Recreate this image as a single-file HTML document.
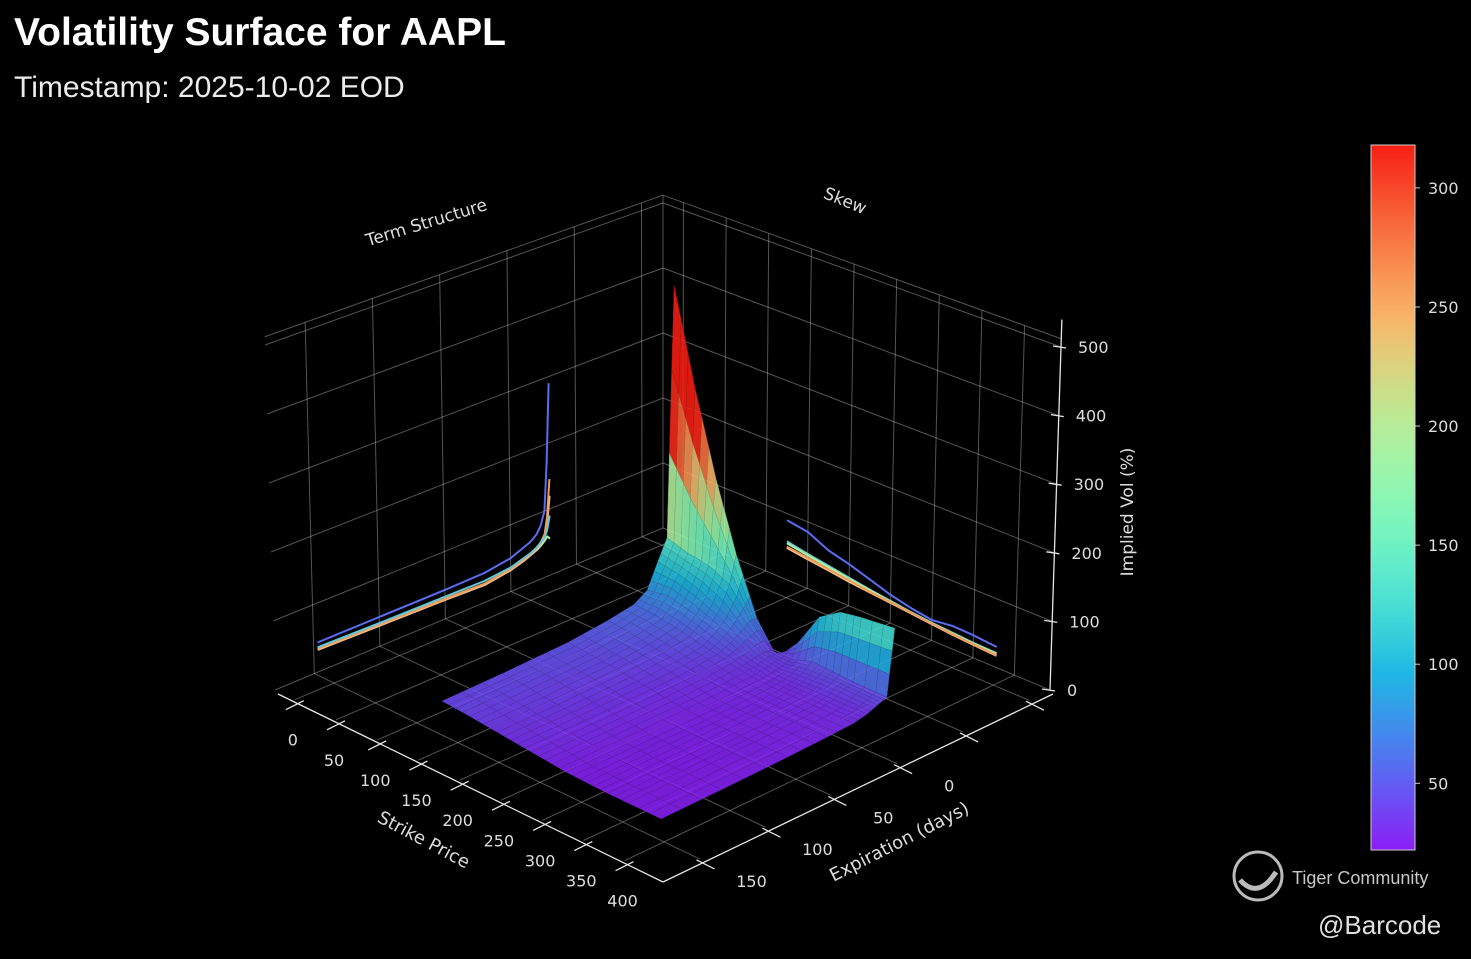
<!DOCTYPE html>
<html><head><meta charset="utf-8"><title>Volatility Surface for AAPL</title>
<style>
html,body{margin:0;padding:0;background:#000;}
svg{display:block;font-family:"DejaVu Sans","Liberation Sans",sans-serif;}
</style></head>
<body>
<svg id="chart" width="1471" height="959" viewBox="0 0 1471 959">
<rect x="0" y="0" width="1471" height="959" fill="#000"/>
<text x="14" y="45" font-size="39" font-weight="bold" fill="#fff" font-family="Liberation Sans, sans-serif">Volatility Surface for AAPL</text>
<text x="14" y="97" font-size="30" fill="#ececec" font-family="Liberation Sans, sans-serif">Timestamp: 2025-10-02 EOD</text>
<g id="grid"></g>
<g id="walllines"></g>
<g id="surface" opacity="0.88"></g>
<g id="axes"></g>
<text x="0" y="0" font-size="17" fill="#ddd" text-anchor="middle" transform="translate(428,228) rotate(-17)">Term Structure</text>
<text x="0" y="0" font-size="17" fill="#ddd" text-anchor="middle" transform="translate(843,206) rotate(22)">Skew</text>
<text x="0" y="0" font-size="18" fill="#ddd" text-anchor="middle" transform="translate(421,845) rotate(28)">Strike Price</text>
<text x="0" y="0" font-size="18" fill="#ddd" text-anchor="middle" transform="translate(902,847) rotate(-27)">Expiration (days)</text>
<text x="0" y="0" font-size="17" fill="#ddd" text-anchor="middle" transform="translate(1133,512) rotate(-90)">Implied Vol (%)</text>
<defs>
<linearGradient id="cmap" x1="0" y1="1" x2="0" y2="0"></linearGradient>
</defs>
<g>
<rect x="1371" y="145" width="44" height="705" fill="url(#cmap)" stroke="#ccc" stroke-width="1"/>
<g id="cbticks"></g>
</g>
<g>
<circle cx="1258" cy="876" r="24" fill="none" stroke="#bbb" stroke-width="3"/>
<path d="M1240 880 Q1258 900 1276 872" fill="none" stroke="#bbb" stroke-width="5"/>
<text x="1292" y="884" font-size="18" fill="#c8c8c8" font-family="Liberation Sans, sans-serif">Tiger Community</text>
<text x="1318" y="934" font-size="26" fill="#e0e0e0" font-family="Liberation Sans, sans-serif">@Barcode</text>
</g>
</svg>
<script>
// ---- data ----
const strikes = [125,150,175,200,225,250,275,300,325,350,390];
const expirations = [-30,-25,-18,-10,0,20,50,100,146];
const ivSurface = [
 [510,370,250,150,70,25,60,110,130,135,140],
 [140,130,125,110,70,40,40,50,48,46,45],
 [110,105,95,80,60,42,36,40,42,42,40],
 [75,80,72,62,50,38,33,33,34,34,34],
 [62,60,55,48,42,35,31,30,30,30,30],
 [55,52,47,42,37,32,29,28,28,28,28],
 [48,45,42,38,34,30,27,26,26,26,26],
 [44,42,38,35,32,29,26,25,24,24,24],
 [42,40,37,34,31,28,25,24,23,23,23]
];
const termExps = [-30,-28,-26,-23,-20,-15,-10,0,20,50,100,147];
const termBlue = [290,170,100,80,70,62,58,50,44,43,43,43];
const termCyan = [90,70,60,55,50,45,42,36,32,33,34,36];
const termOrange = [145,90,65,55,50,44,40,34,28,30,32,34];
const termPeach = [120,80,60,52,47,42,38,32,26,28,30,32];
const termGreen = [55,60,55,50,46,42,38,32,27,29,31,33];
const skewStrikes = [125,150,175,200,225,250,275,300,325,350,378];
const skewBlue = [90,85,70,62,52,42,35,30,34,33,30];
const skewCyan = [58,52,47,42,37,33,29,26,24,22,21];
const skewGreen = [55,50,45,40,36,32,28,25,23,21,20];
const skewOrange = [50,46,42,38,34,31,28,25,22,20,18];
const skewPeach = [48,44,40,36,33,30,27,24,21,19,17];
const strikeTicks = [0,50,100,150,200,250,300,350,400];
const expTicks = [-100,-50,0,50,100,150];
const expTickLabels = ["","","0","50","100","150"];
const zTicks = [0,100,200,300,400,500];
const cbTicks = [50,100,150,200,250,300];

// ---- axis functions ----
const SMIN=-24, SMAX=443, EMIN=-116, EMAX=180, ZMAX=512, ZAXMAX=540, VMIN=22, VMAX=318;
const Bc=[663,528], Rc=[1050,690], Lc=[275,690], Fc=[660,878];
function bil(s,e,b,r,l,f){return (1-s)*(1-e)*b + s*(1-e)*r + (1-s)*e*l + s*e*f;}
function P(S,E,Z){
  const s=(S-SMIN)/(SMAX-SMIN), e=(E-EMIN)/(EMAX-EMIN);
  const x=bil(s,e,Bc[0],Rc[0],Lc[0],Fc[0]), y=bil(s,e,Bc[1],Rc[1],Lc[1],Fc[1]);
  const k=bil(s,e,0.65,0.686,0.69,0.73), dx=bil(s,e,0,0.022,-0.02,0);
  return [x+dx*Z, y-k*Z];
}
function cmap(v){
  let x=(v-VMIN)/(VMAX-VMIN); x=Math.max(0,Math.min(1,x));
  const r=Math.min(1,Math.abs(2*x-0.5)), g=Math.sin(Math.PI*x), b=Math.cos(Math.PI*x/2);
  return [r*255,g*255,b*255];
}
function rgb(c,f){f=f||1;return 'rgb('+Math.round(c[0]*f)+','+Math.round(c[1]*f)+','+Math.round(c[2]*f)+')';}
function soften(c){return [c[0]*0.85+30, c[1]*0.85+30, c[2]*0.88+20];}
const NS='http://www.w3.org/2000/svg';
function mk(tag,attrs,parent){const el=document.createElementNS(NS,tag);for(const a in attrs)el.setAttribute(a,attrs[a]);parent.appendChild(el);return el;}
function line(p,q,st,w,parent,name){
  const el=mk('line',{x1:p[0],y1:p[1],x2:q[0],y2:q[1],stroke:st,'stroke-width':w},parent);
  
  
  return el;
}

// ---- grid ----
const grid=document.getElementById('grid');
const GC='rgba(200,200,200,0.42)';
strikeTicks.forEach(t=>{
  line(P(t,EMIN,0),P(t,EMAX,0),GC,1,grid,'floor-grid-strike');
  line(P(t,EMIN,0),P(t,EMIN,ZMAX),GC,1,grid,'right-wall-grid-strike');
});
expTicks.forEach(t=>{
  line(P(SMIN,t,0),P(SMAX,t,0),GC,1,grid,'floor-grid-exp');
  line(P(SMIN,t,0),P(SMIN,t,ZMAX),GC,1,grid,'left-wall-grid-exp');
});
zTicks.concat([ZMAX]).forEach(z=>{
  line(P(SMIN,EMIN,z),P(SMIN,EMAX,z),GC,1,grid,'left-wall-grid-z');
  line(P(SMIN,EMIN,z),P(SMAX,EMIN,z),GC,1,grid,'right-wall-grid-z');
});
line(P(SMIN,EMIN,0),P(SMIN,EMIN,ZMAX),GC,1,grid,'back-edge');

// ---- wall projections ----
const wl=document.getElementById('walllines');
function polyline(pts,color,name){
  const el=mk('polyline',{points:pts.map(p=>p[0].toFixed(1)+','+p[1].toFixed(1)).join(' '),fill:'none',stroke:color,'stroke-width':2,'stroke-linejoin':'round'},wl);
  
  
}
[[termGreen,'#b0f0a0'],[termPeach,'#f5c08a'],[termOrange,'#f09a5a'],[termCyan,'#60c8d8'],[termBlue,'#5a6cf0']].forEach(([arr,c])=>{
  polyline(termExps.map((E,i)=>P(SMIN,E,arr[i])),c,'term-structure-line');
});
[[skewBlue,'#5a6cf0'],[skewCyan,'#60d0d0'],[skewGreen,'#b0f0a0'],[skewPeach,'#f5c08a'],[skewOrange,'#f09a5a']].forEach(([arr,c])=>{
  polyline(skewStrikes.map((S,i)=>P(S,EMIN,arr[i])),c,'skew-line');
});

// ---- surface ----
const surf=document.getElementById('surface');
const SUB=3, faces=[];
for(let j=0;j<expirations.length-1;j++){
  for(let i=0;i<strikes.length-1;i++){
    const z00=ivSurface[j][i], z10=ivSurface[j][i+1], z01=ivSurface[j+1][i], z11=ivSurface[j+1][i+1];
    for(let b=0;b<SUB;b++)for(let a=0;a<SUB;a++){
      const corners=[[a,b],[a+1,b],[a+1,b+1],[a,b+1]].map(([u,v])=>{
        u/=SUB; v/=SUB;
        const S=strikes[i]+(strikes[i+1]-strikes[i])*u;
        const E=expirations[j]+(expirations[j+1]-expirations[j])*v;
        const Z=(1-u)*(1-v)*z00+u*(1-v)*z10+(1-u)*v*z01+u*v*z11;
        return {S,E,Z};
      });
      const zc=corners.reduce((m,c)=>m+c.Z,0)/4;
      const sc=corners.reduce((m,c)=>m+(c.S-SMIN)/(SMAX-SMIN)+(c.E-EMIN)/(EMAX-EMIN),0)/4;
      faces.push({corners,zc,depth:sc});
    }
  }
}
faces.sort((a,b)=>a.depth-b.depth);
faces.forEach(f=>{
  const pts=f.corners.map(c=>P(c.S,c.E,c.Z));
  const col=soften(cmap(f.zc));
  const el=mk('polygon',{points:pts.map(p=>p[0].toFixed(1)+','+p[1].toFixed(1)).join(' '),fill:rgb(col),stroke:rgb(col,0.8),'stroke-width':0.5},surf);
  
  
});

// ---- axes ----
const ax=document.getElementById('axes');
const AC='#e6e6e6';
function off(p,dx,dy){return [p[0]+dx,p[1]+dy];}
line(off(P(SMIN,EMAX,0),3,4),off(P(SMAX,EMAX,0),3,4),AC,1.3,ax,'x-axis-line');
line(off(P(SMAX,EMAX,0),3,4),off(P(SMAX,EMIN,0),3,4),AC,1.3,ax,'y-axis-line');
line(P(SMAX,EMIN,0),P(SMAX,EMIN,ZAXMAX),AC,1.3,ax,'z-axis-line');
function label(x,y,txt,name,anchor){
  const t=mk('text',{x:x,y:y,'font-size':16,fill:'#ddd','text-anchor':anchor||'middle'},ax);
  t.textContent=txt;
  
  
}
strikeTicks.forEach(t=>{
  const p=off(P(t,EMAX,0),3,4);
  line(off(p,6,-3),off(p,-12,6),AC,1.3,ax,'x-tick');
  label(p[0]-5,p[1]+42,String(t),'x-tick-label');
});
expTicks.forEach((t,i)=>{
  const p=off(P(SMAX,t,0),3,4);
  line(off(p,-6,-3),off(p,12,6),AC,1.3,ax,'y-tick');
  if(expTickLabels[i]) label(p[0]+49,p[1]+24,expTickLabels[i],'y-tick-label');
});
zTicks.forEach(z=>{
  const p=P(SMAX,EMIN,z);
  line(off(p,-8,-1),off(p,5,1),AC,1.3,ax,'z-tick');
  label(p[0]+17,p[1]+6,String(z),'z-tick-label','start');
});

// ---- colorbar ----
const grad=document.getElementById('cmap');
for(let i=0;i<=20;i++){
  const c=soften(cmap(VMIN+(VMAX-VMIN)*i/20));
  const st=mk('stop',{offset:(i/20),'stop-color':rgb(c)},grad);
  
  
}
const cbt=document.getElementById('cbticks');
cbTicks.forEach(v=>{
  const y=850-(v-VMIN)/(VMAX-VMIN)*705;
  line([1415,y],[1420,y],'#ccc',1,cbt,'colorbar-tick');
  const t=mk('text',{x:1428,y:y+6,'font-size':16,fill:'#ddd'},cbt);
  t.textContent=String(v);
  
  
});
</script>
</body></html>
